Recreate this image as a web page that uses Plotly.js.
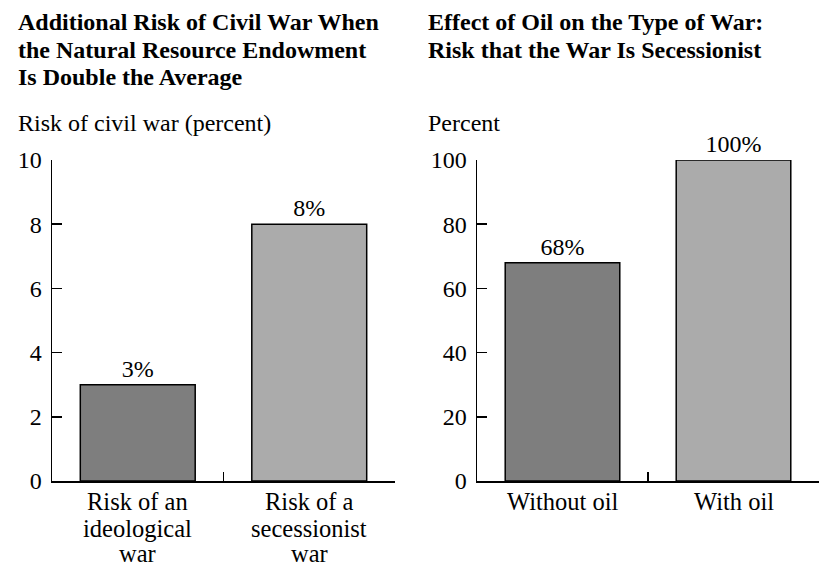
<!DOCTYPE html>
<html>
<head>
<meta charset="utf-8">
<script src="https://cdn.plot.ly/plotly-3.0.1.min.js"></script>
<style>body{margin:0;padding:0;background:#fff;} #chart{width:822px;height:568px;}</style>
</head>
<body>
<div id="chart"></div>
<script>
// Data
const leftCategories = ["Risk of an<br>ideological<br>war", "Risk of a<br>secessionist<br>war"];
const leftValues = [3, 8];
const leftTicks = [0, 2, 4, 6, 8, 10];
const rightCategories = ["Without oil", "With oil"];
const rightValues = [68, 100];
const rightTicks = [0, 20, 40, 60, 80, 100];
const barColors = ["#7e7e7e", "#ababab"];
const leftTitleLines = ["Additional Risk of Civil War When", "the Natural Resource Endowment", "Is Double the Average"];
const rightTitleLines = ["Effect of Oil on the Type of War:", "Risk that the War Is Secessionist"];
const leftYTitle = "Risk of civil war (percent)";
const rightYTitle = "Percent";

const FONT = "Liberation Serif, Times New Roman, serif";
const FS = 24;
const W = 822, H = 568;

const traces = [
  {
    type: "bar", x: leftCategories, y: leftValues, xaxis: "x", yaxis: "y",
    width: 0.67,
    marker: {color: barColors, line: {color: "#000", width: 1.5}},
    texttemplate: "%{y}%", textposition: "outside", cliponaxis: false,
    textfont: {family: FONT, size: FS, color: "#000"},
    hoverinfo: "skip", showlegend: false
  },
  {
    type: "bar", x: rightCategories, y: rightValues, xaxis: "x2", yaxis: "y2",
    width: 0.67,
    marker: {color: barColors, line: {color: "#000", width: 1.5}},
    texttemplate: "%{y}%", textposition: "outside", cliponaxis: false,
    textfont: {family: FONT, size: FS, color: "#000"},
    hoverinfo: "skip", showlegend: false
  }
];

const yDom = [(H - 481) / H, (H - 160) / H];

function xAx(dom) {
  return {
    domain: dom, type: "category", range: [-0.5, 1.5],
    showline: true, linecolor: "#000", linewidth: 1.5,
    ticks: "inside", tickson: "boundaries", ticklen: 9, tickwidth: 1.5, tickcolor: "#000",
    showgrid: false, zeroline: false, fixedrange: true,
    showticklabels: false
  };
}
function yAx(rng, tv) {
  return {
    domain: yDom, range: rng, tickvals: tv,
    showline: true, linecolor: "#000", linewidth: 1.5,
    ticks: "inside", ticklen: 10, tickwidth: 1.5, tickcolor: "#000",
    showgrid: false, zeroline: false, fixedrange: true,
    ticklabelstandoff: 4,
    tickfont: {family: FONT, size: FS, color: "#000"}
  };
}

function textAnn(txt, xpx, ypx, bold) {
  return {
    text: bold ? "<b>" + txt + "</b>" : txt,
    xref: "paper", yref: "paper", x: xpx / W, y: 1 - ypx / H,
    xanchor: "left", yanchor: "middle", align: "left", showarrow: false,
    font: {family: FONT, size: FS, color: "#000"}
  };
}

const annotations = [];
const lineYs = [22, 50, 77];
leftTitleLines.forEach((t, i) => annotations.push(textAnn(t, 16, lineYs[i], true)));
rightTitleLines.forEach((t, i) => annotations.push(textAnn(t, 426, lineYs[i], true)));
annotations.push(textAnn(leftYTitle, 16, 123, false));
annotations.push(textAnn(rightYTitle, 426, 123, false));

// Category labels placed on the category axes, one line at a time (tight line spacing)
const catLineYs = [501, 528, 553];
function addCatLabels(cats, xref) {
  cats.forEach((c, ci) => {
    c.split("<br>").forEach((line, li) => {
      annotations.push({
        text: line, xref: xref, yref: "paper", x: ci, y: 1 - catLineYs[li] / H,
        xanchor: "center", yanchor: "middle", showarrow: false, borderpad: 0,
        font: {family: FONT, size: 24.5, color: "#000"}
      });
    });
  });
}
addCatLabels(leftCategories, "x");
addCatLabels(rightCategories, "x2");

const layout = {
  width: W, height: H,
  margin: {l: 0, r: 0, t: 0, b: 0},
  paper_bgcolor: "#fff", plot_bgcolor: "#fff",
  font: {family: FONT, color: "#000"},
  xaxis: xAx([52 / W, 395 / W]),
  yaxis: Object.assign(yAx([0, 10], leftTicks), {anchor: "x"}),
  xaxis2: Object.assign(xAx([477 / W, 819 / W]), {anchor: "y2"}),
  yaxis2: Object.assign(yAx([0, 100], rightTicks), {anchor: "x2"}),
  annotations: annotations
};

Plotly.newPlot("chart", traces, layout, {displayModeBar: false, staticPlot: true});
</script>
</body>
</html>
